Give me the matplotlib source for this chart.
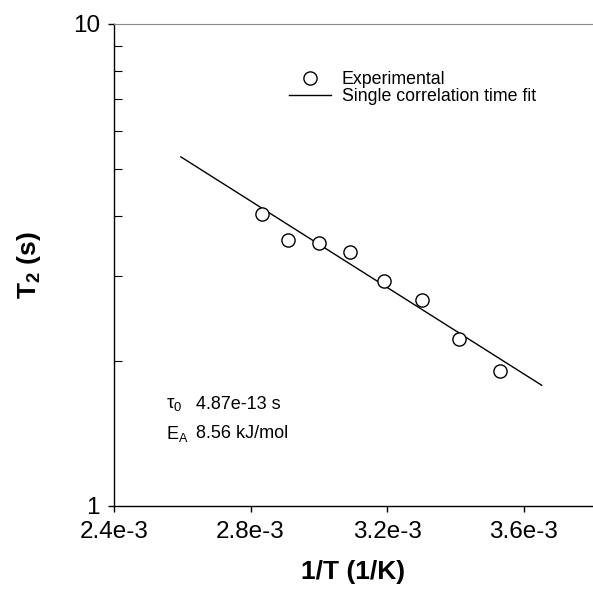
import matplotlib
matplotlib.use("Agg")
import matplotlib.pyplot as plt
from matplotlib.ticker import LogLocator, NullFormatter, FixedLocator

plt.rcParams['font.family'] = ['Liberation Sans', 'DejaVu Sans']
plt.rcParams['mathtext.fontset'] = 'custom'
plt.rcParams['mathtext.rm'] = 'Liberation Sans'
plt.rcParams['mathtext.it'] = 'Liberation Sans:italic'
plt.rcParams['mathtext.bf'] = 'Liberation Sans:bold'

# Messpunkte (1/T in 1/K, T2 in s)
inv_T = [2.833e-3, 2.911e-3, 3.001e-3, 3.091e-3, 3.191e-3, 3.301e-3, 3.410e-3, 3.532e-3]
t2 = [4.03, 3.56, 3.52, 3.36, 2.93, 2.67, 2.22, 1.91]

# Fit-Gerade (Endpunkte)
fit_x = [2.596e-3, 3.653e-3]
fit_y = [5.30, 1.78]

x_ticks = [2.4e-3, 2.8e-3, 3.2e-3, 3.6e-3]
x_labels = ['2.4e-3', '2.8e-3', '3.2e-3', '3.6e-3']
y_ticks = [1, 10]
y_labels = ['1', '10']

fig = plt.figure(figsize=(5.93, 6.0), dpi=100)
ax = fig.add_axes([0.1922, 0.1567, 0.806, 0.8033])

ax.plot(inv_T, t2, 'o', ls='none', mfc='white', mec='black', mew=1.0, ms=9.5,
        label='Experimental', zorder=3)
ax.plot(fit_x, fit_y, '-', color='black', lw=1.0, label='Single correlation time fit')

ax.set_yscale('log')
ax.set_xlim(2.4e-3, 3.8e-3)
ax.set_ylim(1, 10)

ax.xaxis.set_major_locator(FixedLocator(x_ticks))
ax.set_xticklabels(x_labels)
ax.yaxis.set_major_locator(FixedLocator(y_ticks))
ax.set_yticklabels(y_labels)
ax.yaxis.set_minor_locator(LogLocator(base=10, subs=range(2, 10)))
ax.yaxis.set_minor_formatter(NullFormatter())

ax.tick_params(axis='both', which='major', labelsize=17.5, direction='out', length=4, width=1)
ax.tick_params(axis='y', which='minor', direction='in', length=6, width=0.8)
ax.tick_params(axis='x', pad=7)
ax.tick_params(axis='y', pad=6)

ax.spines['right'].set_visible(False)
ax.spines['top'].set_color('#888888')
ax.spines['left'].set_linewidth(1.0)
ax.spines['bottom'].set_linewidth(1.0)

ax.set_xlabel('1/T (1/K)', fontsize=19, fontweight='bold', labelpad=12)
ax.set_ylabel(r'T$_\mathbf{2}$ (s)', fontsize=19, fontweight='bold')
ax.yaxis.set_label_coords(-0.149, 0.5)

ax.legend(loc='upper left', bbox_to_anchor=(0.367, 0.902), frameon=False, fontsize=12.8,
          borderpad=0, borderaxespad=0, handlelength=2.35, handletextpad=0.6,
          labelspacing=0.0)

ax.text(0.108, 0.21, r'$\mathrm{\tau}_0$', transform=ax.transAxes, fontsize=13.5, va='center')
ax.text(0.171, 0.21, '4.87e-13 s', transform=ax.transAxes, fontsize=13, va='center')
ax.text(0.108, 0.15, r'E$_\mathrm{A}$', transform=ax.transAxes, fontsize=13, va='center')
ax.text(0.171, 0.15, '8.56 kJ/mol', transform=ax.transAxes, fontsize=13, va='center')

fig.savefig('out.png', dpi=100)
